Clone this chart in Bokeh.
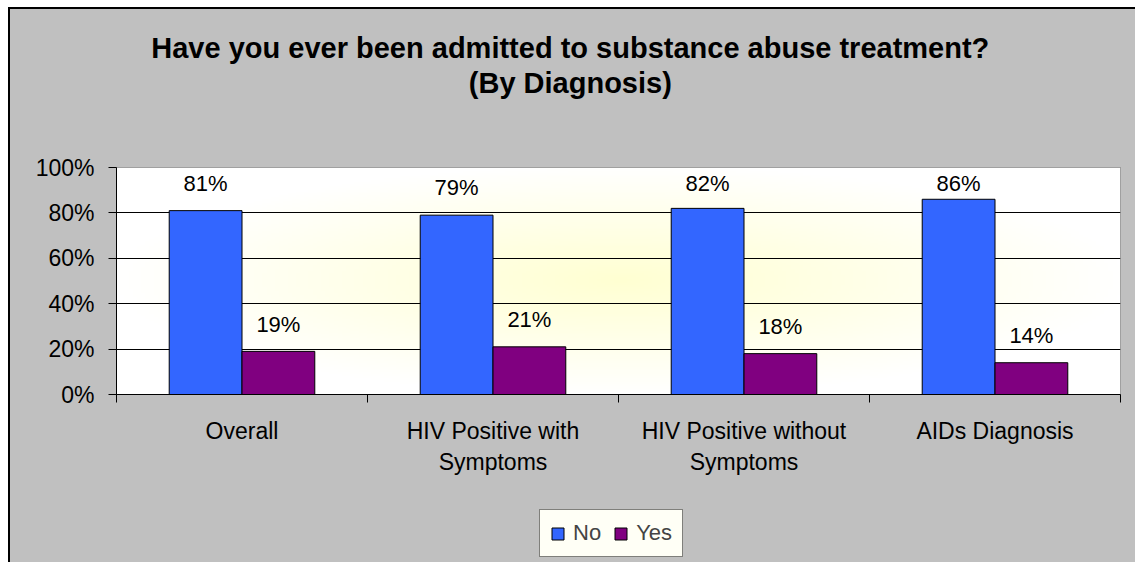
import numpy as np
from bokeh.plotting import figure
from bokeh.layouts import column
from bokeh.models import FixedTicker, Range1d, Legend, LegendItem, ColumnDataSource
from bokeh.core.properties import value
from bokeh.embed import file_html
from bokeh.resources import INLINE

# ---- data ----
categories = ["Overall", "HIV Positive with\nSymptoms", "HIV Positive without\nSymptoms", "AIDs Diagnosis"]
series_names = ["No", "Yes"]
no_values = [81, 79, 82, 86]
yes_values = [19, 21, 18, 14]
y_ticks = [0, 20, 40, 60, 80, 100]
y_tick_labels = ["0%", "20%", "40%", "60%", "80%", "100%"]
series_colors = ["#3366FF", "#800080"]
title_lines = ["Have you ever been admitted to substance abuse treatment?", "(By Diagnosis)"]

FONT = "Liberation Sans"
BAR_W = 0.29
BG = "#C0C0C0"
W = 1125

# ---- title strip ----
tf = figure(width=W, height=100, x_range=Range1d(0, 1), y_range=Range1d(0, 1),
            output_backend="svg", toolbar_location=None, x_axis_type=None, y_axis_type=None,
            min_border_left=106, min_border_right=15, min_border_top=0, min_border_bottom=0)
tf.border_fill_alpha = 0
tf.background_fill_alpha = 0
tf.outline_line_color = None
tf.grid.visible = False
tsrc = ColumnDataSource(dict(x=[0.452, 0.452], y=[0.615, 0.27], text=title_lines))
tf.text(x="x", y="y", text="text", source=tsrc, text_align="center", text_baseline="middle",
        text_font=value(FONT), text_font_size="29px", text_font_style="bold", text_color="black")

# ---- main chart ----
p = figure(width=W, height=391, x_range=Range1d(0, len(categories)), y_range=Range1d(0, 100),
           output_backend="svg", toolbar_location=None,
           min_border_left=106, min_border_right=15, min_border_top=58, min_border_bottom=106)
p.border_fill_alpha = 0
p.background_fill_color = "white"
p.outline_line_color = "#808080"
p.outline_line_width = 1

# radial soft-yellow gradient of the plot area
ny, nx = 120, 240
yy, xx = np.mgrid[0:ny, 0:nx]
r = np.sqrt(((xx - nx / 2) / (nx / 2)) ** 2 + ((yy - ny / 2) / (ny / 2)) ** 2)
t = np.clip(r, 0, 1)
img = np.empty((ny, nx), dtype=np.uint32)
view = img.view(dtype=np.uint8).reshape((ny, nx, 4))
view[:, :, 0] = 255
view[:, :, 1] = 255
view[:, :, 2] = (210 + (255 - 210) * t).astype(np.uint8)
view[:, :, 3] = 255
p.image_rgba(image=[img], x=0, y=0, dw=len(categories), dh=100, level="image")

# grid
p.xgrid.visible = False
p.ygrid.ticker = FixedTicker(ticks=y_ticks[1:-1])
p.ygrid.grid_line_color = "black"
p.ygrid.grid_line_width = 1

idx = np.arange(len(categories))
src = ColumnDataSource(dict(
    x_no=idx + 0.5 - BAR_W / 2, x_yes=idx + 0.5 + BAR_W / 2,
    no=no_values, yes=yes_values,
    no_lab=[f"{v}%" for v in no_values], yes_lab=[f"{v}%" for v in yes_values],
    no_ly=[min(v + 12, 93) for v in no_values], yes_ly=[min(v + 12, 93) for v in yes_values],
))
p.vbar(x="x_no", top="no", bottom=0, width=BAR_W, source=src,
       fill_color=series_colors[0], line_color="black", line_width=1)
p.vbar(x="x_yes", top="yes", bottom=0, width=BAR_W, source=src,
       fill_color=series_colors[1], line_color="black", line_width=1)

for xcol, ycol, lcol in (("x_no", "no_ly", "no_lab"), ("x_yes", "yes_ly", "yes_lab")):
    p.text(x=xcol, y=ycol, text=lcol, source=src, text_align="center", text_baseline="middle",
           text_font=value(FONT), text_font_size="22px", text_color="black")

# axes
xa = p.xaxis[0]
xa.ticker = FixedTicker(ticks=list(idx + 0.5), minor_ticks=list(range(len(categories) + 1)))
xa.major_label_overrides = {float(i + 0.5): c for i, c in enumerate(categories)}
xa.major_tick_out = 0
xa.major_tick_in = 0
xa.minor_tick_out = 8
xa.minor_tick_in = 0
xa.minor_tick_line_color = "black"
xa.axis_line_color = "black"
xa.major_label_standoff = 15
xa.major_label_text_font = FONT
xa.major_label_text_font_size = "23px"
xa.major_label_text_color = "black"

ya = p.yaxis[0]
ya.ticker = FixedTicker(ticks=y_ticks)
ya.major_label_overrides = {t: l for t, l in zip(y_ticks, y_tick_labels)}
ya.major_tick_out = 8
ya.major_tick_in = 0
ya.minor_tick_out = 0
ya.minor_tick_in = 0
ya.axis_line_color = "black"
ya.major_tick_line_color = "black"
ya.major_label_standoff = 14
ya.major_label_text_font = FONT
ya.major_label_text_font_size = "23px"
ya.major_label_text_color = "black"

# ---- legend strip (own small figure so the legend is not clipped); its bars lie far outside its view ----
lg = figure(width=W, height=62, x_range=Range1d(100, 101), y_range=Range1d(1000, 1001),
            output_backend="svg", toolbar_location=None, x_axis_type=None, y_axis_type=None,
            min_border_left=106, min_border_right=15, min_border_top=0, min_border_bottom=0)
lg.border_fill_alpha = 0
lg.background_fill_alpha = 0
lg.outline_line_color = None
lg.grid.visible = False
k_no = lg.vbar(x="x_no", top="no", width=BAR_W, source=src,
               fill_color=series_colors[0], line_color="black")
k_yes = lg.vbar(x="x_yes", top="yes", width=BAR_W, source=src,
                fill_color=series_colors[1], line_color="black")
legend = Legend(items=[LegendItem(label=series_names[0], renderers=[k_no]),
                       LegendItem(label=series_names[1], renderers=[k_yes])],
                orientation="horizontal", location=(423, 5),
                label_text_font=FONT, label_text_font_size="22px",
                glyph_width=15, glyph_height=15, label_standoff=8, spacing=12,
                padding=10, margin=0, label_height=26,
                border_line_color="black", border_line_width=1,
                background_fill_color="#FFFFF6", background_fill_alpha=1)
lg.add_layout(legend, "center")

page = column(tf, p, lg, spacing=0)
page.styles = {"margin-left": "8px", "margin-top": "7px", "background-color": BG,
               "border-left": "2px solid black", "border-top": "2px solid black"}

open("out.html", "w").write(file_html(page, INLINE))
